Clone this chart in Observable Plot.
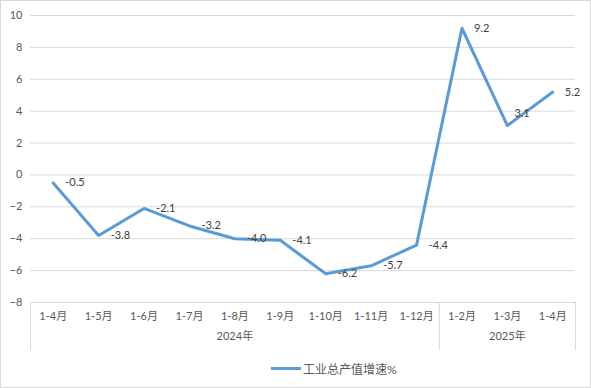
<!DOCTYPE html>
<html>
<head>
<meta charset="utf-8">
<script src="https://cdn.jsdelivr.net/npm/d3@7"></script>
<script src="https://cdn.jsdelivr.net/npm/@observablehq/plot@0.6"></script>
<style>
  html, body { margin: 0; padding: 0; background: #fff; }
  #wrap { position: relative; width: 591px; height: 388px; overflow: hidden; background: #fff;
          font-family: Lato, "Noto Sans CJK SC", sans-serif; }
  #border { position: absolute; left: 0; top: 0; width: 591px; height: 388px; box-sizing: border-box;
            border: 1px solid #d9d9d9; pointer-events: none; }
  #legend { position: absolute; left: 271px; top: 358px; height: 20px; display: flex;
            align-items: center; font-size: 12px; color: #595959; }
  #legend .sw { width: 30px; height: 3px; background: #5B9BD5; margin-right: 2px; }
</style>
</head>
<body>
<div id="wrap">
  <div id="chart"></div>
  <div id="legend"><span class="sw"></span><span id="legtext"></span></div>
  <div id="border"></div>
</div>
<script>
const months = ["1-4月","1-5月","1-6月","1-7月","1-8月","1-9月","1-10月","1-11月","1-12月","1-2月","1-3月","1-4月"];
const values = [-0.5, -3.8, -2.1, -3.2, -4.0, -4.1, -6.2, -5.7, -4.4, 9.2, 3.1, 5.2];
const years = ["2024年", "2025年"];
const yearCounts = [9, 3];
const seriesName = "工业总产值增速%";
const yTicks = [-8, -6, -4, -2, 0, 2, 4, 6, 8, 10];

const data = values.map((v, i) => ({i, v, label: v.toFixed(1)}));

// group separators and centers
const seps = [-0.5];
const groupData = [];
let acc = 0;
years.forEach((y, k) => {
  groupData.push({name: y, x: acc - 0.5 + yearCounts[k] / 2});
  acc += yearCounts[k];
  seps.push(acc - 0.5);
});

document.getElementById("legtext").textContent = seriesName;

const font = 'Lato, "Noto Sans CJK SC", sans-serif';
const special = 10; // label placed above-right to avoid overlap

const chart = Plot.plot({
  width: 591,
  height: 356,
  marginLeft: 30,
  marginRight: 16,
  marginTop: 15,
  marginBottom: 54,
  style: {fontFamily: font, fontSize: "11px", color: "#595959", background: "transparent"},
  x: {type: "linear", domain: [-0.5, months.length - 0.5]},
  y: {domain: [-8, 10]},
  marks: [
    Plot.gridY(yTicks, {stroke: "#d9d9d9", strokeOpacity: 1, strokeWidth: 1}),
    Plot.ruleX(seps, {y1: -8, y2: -11, stroke: "#d9d9d9", strokeWidth: 1}),
    Plot.axisY(yTicks, {tickSize: 0, tickPadding: 8, fill: "#595959", fontSize: 11, label: null}),
    Plot.axisX(d3.range(months.length), {tickSize: 0, tickPadding: 10, tickFormat: i => months[i], fill: "#595959", fontSize: 11, label: null}),
    Plot.text(groupData, {x: "x", frameAnchor: "bottom", dy: 37, text: "name", fill: "#595959", fontSize: 11}),
    Plot.line(data, {x: "i", y: "v", stroke: "#5B9BD5", strokeWidth: 3, strokeLinejoin: "round", strokeLinecap: "round"}),
    Plot.text(data.filter(d => d.i !== special), {x: "i", y: "v", text: "label", textAnchor: "start", dx: 12, fill: "#404040", fontSize: 11}),
    Plot.text(data.filter(d => d.i === special), {x: "i", y: "v", text: "label", textAnchor: "start", dx: 7, dy: -12, fill: "#404040", fontSize: 11})
  ]
});
document.getElementById("chart").appendChild(chart);
</script>
</body>
</html>
